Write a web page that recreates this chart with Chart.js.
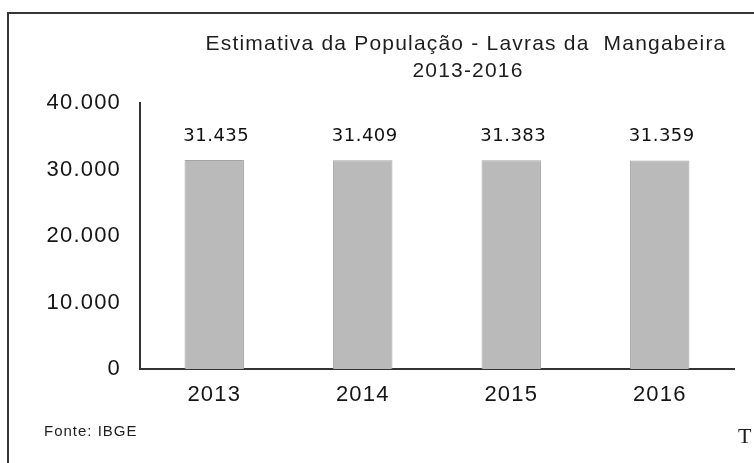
<!DOCTYPE html>
<html>
<head>
<meta charset="utf-8">
<script src="https://cdn.jsdelivr.net/npm/chart.js@4.4.0/dist/chart.umd.min.js"></script>
<style>
  html, body { margin: 0; padding: 0; background: #fff; }
  #wrap { width: 754px; height: 463px; position: relative; }
</style>
</head>
<body>
<div id="wrap"><canvas id="popChart" width="754" height="463"></canvas></div>
<script>
const years = ["2013", "2014", "2015", "2016"];
const population = [31435, 31409, 31383, 31359];
const yTicks = [0, 10000, 20000, 30000, 40000];
const titleLines = ["Estimativa da População - Lavras da  Mangabeira", "2013-2016"];
const sourceNote = "Fonte: IBGE";

// 31435 -> "31.435"
function fmt(v) {
    return String(v).replace(/\B(?=(\d{3})+(?!\d))/g, ".");
}

const sansFont = "'Liberation Sans', Arial, sans-serif";

// frame, title, value labels, footnote
const decor = {
    id: "decor",
    beforeDraw(chart) {
        const c = chart.ctx;
        c.save();
        c.fillStyle = "#fff";
        c.fillRect(0, 0, chart.width, chart.height);
        c.strokeStyle = "#363636";
        c.lineWidth = 2;
        c.beginPath();
        c.moveTo(8, chart.height);
        c.lineTo(8, 13);
        c.lineTo(chart.width, 13);
        c.stroke();
        c.restore();
        c.letterSpacing = "1.2px";
    },
    afterDatasetsDraw(chart) {
        const c = chart.ctx;
        const bars = chart.getDatasetMeta(0).data;
        c.save();
        c.letterSpacing = "0.5px";
        c.font = "18px 'DejaVu Sans', sans-serif";
        c.fillStyle = "#111";
        c.textAlign = "center";
        c.textBaseline = "middle";
        bars.forEach(function(bar, i) {
            c.fillText(fmt(population[i]), bar.x + 2, bar.y - 24);
        });
        c.restore();
    },
    afterDraw(chart) {
        const c = chart.ctx;
        c.save();
        c.fillStyle = "#1e1e1e";
        c.textAlign = "center";
        c.textBaseline = "middle";
        c.letterSpacing = "1.2px";
        c.font = "21px " + sansFont;
        c.fillText(titleLines[0], 466, 44);
        c.fillText(titleLines[1], 468, 71);

        c.textAlign = "left";
        c.letterSpacing = "1px";
        c.font = "15px " + sansFont;
        c.fillText(sourceNote, 44, 432);

        c.letterSpacing = "0px";
        c.font = "22px 'Liberation Serif', serif";
        c.fillText("T", 738, 437);
        c.restore();
    }
};

const ctx = document.getElementById("popChart").getContext("2d");

new Chart(ctx, {
    type: "bar",
    data: {
        labels: years,
        datasets: [{
            data: population,
            backgroundColor: "#bababa",
            borderColor: "#a4a4a4",
            borderWidth: 1,
            barPercentage: 0.4,
            categoryPercentage: 1
        }]
    },
    options: {
        responsive: false,
        animation: false,
        devicePixelRatio: 1,
        layout: { padding: { top: 103, right: 20, left: 0, bottom: 0 } },
        plugins: {
            legend: { display: false },
            title: { display: false },
            tooltip: { enabled: false }
        },
        scales: {
            x: {
                grid: { display: false, drawTicks: false },
                border: { display: true, color: "#333", width: 2 },
                ticks: {
                    color: "#151515",
                    font: { family: sansFont, size: 22 },
                    padding: 13
                },
                afterFit(scale) { scale.height = 94; }
            },
            y: {
                min: 0,
                max: 40000,
                afterBuildTicks(scale) {
                    scale.ticks = yTicks.map(v => ({ value: v }));
                },
                grid: { display: false, drawTicks: false },
                border: { display: true, color: "#333", width: 2 },
                ticks: {
                    color: "#151515",
                    font: { family: sansFont, size: 22 },
                    padding: 19,
                    callback: v => fmt(v)
                },
                afterFit(scale) { scale.width = 140; }
            }
        }
    },
    plugins: [decor]
});
</script>
</body>
</html>
